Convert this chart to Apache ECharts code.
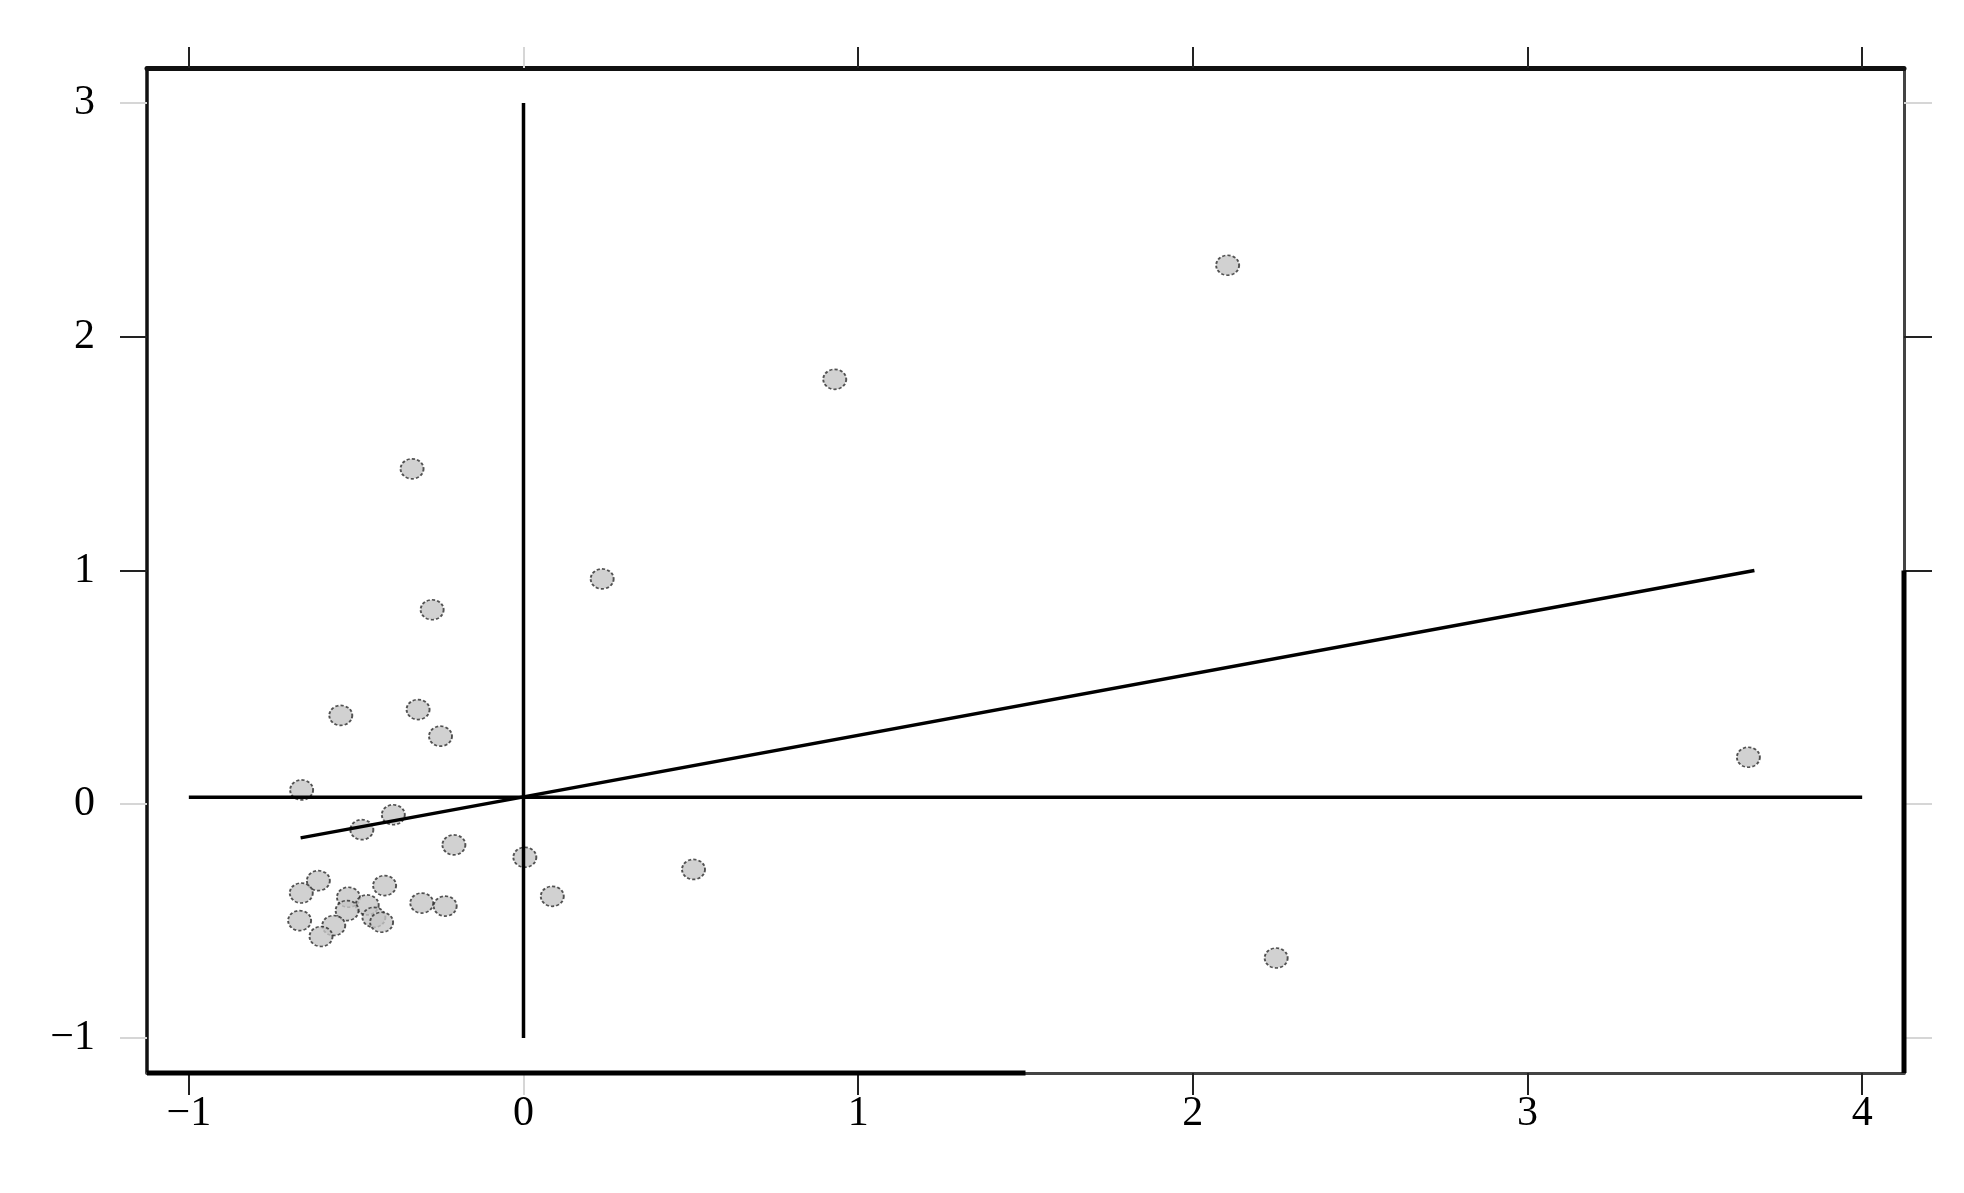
<!DOCTYPE html>
<html>
<head>
<meta charset="utf-8">
<title>scatter</title>
<script src="https://cdn.jsdelivr.net/npm/echarts@6.0.0/dist/echarts.min.js"></script>
<style>
  html, body { margin: 0; padding: 0; background: #fff; }
  #chart { width: 1964px; height: 1193px; }
</style>
</head>
<body>
<div id="chart"></div>
<script>
'use strict';

// 数据
var pointX = [2.104, 0.930, -0.333, 0.235, -0.273, 3.660, 2.249,
    -0.546, -0.315, -0.248, -0.663, -0.389, -0.483, -0.208, 0.004, 0.508,
    -0.613, -0.664, -0.415, -0.523, -0.467, -0.304, -0.234, 0.086,
    -0.669, -0.527, -0.567, -0.605, -0.447, -0.424];
var pointY = [2.306, 1.818, 1.435, 0.964, 0.832, 0.201, -0.658,
    0.380, 0.405, 0.291, 0.061, -0.045, -0.109, -0.174, -0.227, -0.279,
    -0.327, -0.380, -0.348, -0.398, -0.431, -0.423, -0.436, -0.394,
    -0.498, -0.455, -0.519, -0.566, -0.484, -0.505];

// reference lines
var vLineX = [0, 0];
var vLineY = [-1, 3];
var hLineX = [-1, 4];
var hLineY = [0.03, 0.03];
var fitX = [-0.666, 3.678];
var fitY = [-0.144, 1.0];

// tick labels
var xTicks = [-1, 0, 1, 2, 3, 4];
var yTicks = [-1, 0, 1, 2, 3];
var xTicksDark = [-1, 1, 2, 3, 4];
var xTicksLight = [0];
var yTicksDark = [1, 2];
var yTicksLight = [-1, 0, 3];

var xRange = [-1.125, 4.125];
var yRange = [-1.15, 3.15];

function zip(a, b) {
    return a.map(function(v, i) { return [v, b[i]]; });
}

function fmt(v) {
    return String(v).replace('-', '\u2212');
}

function makeAxis(pos, ticks, tickColor, lineWidth, lineColor, labels, range, tickLen, margin) {
    return {
        type: 'value',
        position: pos,
        min: range[0],
        max: range[1],
        splitLine: { show: false },
        axisLine: {
            show: lineWidth > 0,
            onZero: false,
            lineStyle: { color: lineColor || '#000', width: lineWidth || 1 }
        },
        axisTick: {
            show: true,
            customValues: ticks,
            length: tickLen,
            lineStyle: { color: tickColor, width: 2 }
        },
        axisLabel: labels ? {
            show: true,
            customValues: labels,
            formatter: fmt,
            margin: margin,
            fontFamily: 'Liberation Serif',
            fontSize: 42,
            color: '#000'
        } : { show: false }
    };
}

var myChart = echarts.init(document.getElementById('chart'));

var lineStyleBlack = { color: '#000', width: 3.5 };

var option = {
    backgroundColor: '#fff',
    animation: false,
    grid: { left: 147, right: 60, top: 68, bottom: 120 },
    xAxis: [
        makeAxis('bottom', xTicksDark, '#222', 3, '#444', xTicks, xRange, 22, 20),
        makeAxis('bottom', xTicksLight, '#d6d6d6', 0, null, null, xRange, 22),
        makeAxis('top', xTicksDark, '#222', 5, '#111', null, xRange, 21),
        makeAxis('top', xTicksLight, '#d6d6d6', 0, null, null, xRange, 21)
    ],
    yAxis: [
        makeAxis('left', yTicksDark, '#222', 3.5, '#111', yTicks, yRange, 27, 52),
        makeAxis('left', yTicksLight, '#d6d6d6', 0, null, null, yRange, 27),
        makeAxis('right', yTicksDark, '#222', 3, '#444', null, yRange, 28),
        makeAxis('right', yTicksLight, '#d6d6d6', 0, null, null, yRange, 28)
    ],
    series: [
        {
            name: 'points',
            type: 'scatter',
            z: 2,
            symbol: 'circle',
            symbolSize: [23, 20],
            itemStyle: {
                color: '#c6c6c6',
                borderColor: '#2a2a2a',
                borderWidth: 1.8,
                borderType: [3, 2]
            },
            data: zip(pointX, pointY)
        },
        {
            name: 'vline',
            type: 'line',
            z: 4,
            showSymbol: false,
            lineStyle: lineStyleBlack,
            data: zip(vLineX, vLineY)
        },
        {
            name: 'hline',
            type: 'line',
            z: 4,
            showSymbol: false,
            lineStyle: lineStyleBlack,
            data: zip(hLineX, hLineY)
        },
        {
            name: 'fit',
            type: 'line',
            z: 4,
            showSymbol: false,
            lineStyle: lineStyleBlack,
            data: zip(fitX, fitY)
        },
        {
            // thicker pieces of the frame
            name: 'frame',
            type: 'line',
            z: 5,
            clip: false,
            showSymbol: false,
            lineStyle: { color: '#000', width: 5 },
            data: [[xRange[0], yRange[0]], [1.5, yRange[0]], null,
                   [xRange[1], 1], [xRange[1], yRange[0]]],
            connectNulls: false
        }
    ]
};

myChart.setOption(option);
</script>
</body>
</html>
